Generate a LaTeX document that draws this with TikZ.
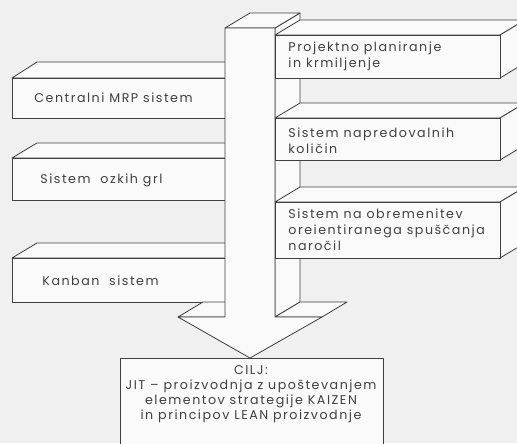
\documentclass[tikz,border=0pt]{standalone}
\usepackage{fontspec}
\newfontfamily\cadfont{Poppins}[LetterSpace=12.0]
\begin{document}
\begin{tikzpicture}[
  x=0.03cm, y=-0.03cm,
  line width=0.7pt,
  font=\cadfont\fontsize{10.8}{13.8}\selectfont,
  plosca/.style={draw=black!75, fill=black!2, line join=round},
  napis/.style={anchor=west, align=left, inner sep=0pt, text=black!75},
]
  \useasboundingbox (0,0) rectangle (517,443);
  \fill[black!6] (0,0) rectangle (517,443);
  \clip (0,0) rectangle (517,443);

  % leve plosce, za stebrom
  \draw[plosca] (12,78) -- (37,62) -- (250,62) -- (240,78) -- cycle;
  \draw[plosca] (12,78) rectangle (240,118);
  \draw[plosca] (12,158) -- (37,143) -- (250,143) -- (240,158) -- cycle;
  \draw[plosca] (12,158) rectangle (240,200);
  \draw[plosca] (12,258) -- (37,243) -- (250,243) -- (240,258) -- cycle;
  \draw[plosca] (12,258) rectangle (240,302);

  % steber s puscico
  \draw[plosca] (275,28) -- (300,13) -- (300,302) -- (275,317) -- cycle;
  \draw[plosca] (225,28) -- (250,13) -- (300,13) -- (275,28) -- cycle;
  \draw[plosca] (178,317) -- (203,302) -- (250,302) -- (225,317) -- cycle;
  \draw[plosca] (275,317) -- (300,302) -- (347,302) -- (322,317) -- cycle;
  \draw[plosca] (225,28) -- (275,28) -- (275,317) -- (322,317)
    -- (250,358) -- (178,317) -- (225,317) -- cycle;

  % desne plosce, pred stebrom
  \draw[plosca] (275,35) -- (300,20) -- (525,20) -- (500,35) -- cycle;
  \draw[plosca] (500,35) -- (525,20) -- (525,63) -- (500,78) -- cycle;
  \draw[plosca] (275,35) rectangle (500,78);
  \draw[plosca] (275,118) -- (300,103) -- (525,103) -- (500,118) -- cycle;
  \draw[plosca] (500,118) -- (525,103) -- (525,145) -- (500,160) -- cycle;
  \draw[plosca] (275,118) rectangle (500,160);
  \draw[plosca] (275,202) -- (300,187) -- (525,187) -- (500,202) -- cycle;
  \draw[plosca] (500,202) -- (525,187) -- (525,243) -- (500,258) -- cycle;
  \draw[plosca] (275,202) rectangle (500,258);

  % cilj
  \draw[plosca] (120,358) rectangle (383,450);

  \node[napis] (mrp) at (34,98) {Centralni MRP sistem};
  \node[napis] (ozko) at (40,180) {Sistem\ \ ozkih grl};
  \node[napis] (kanban) at (42,281) {Kanban\ \ sistem};
  \node[napis] (proj) at (288,56) {Projektno planiranje\\in krmiljenje};
  \node[napis] (napred) at (288,141) {Sistem napredovalnih\\količin};
  \node[napis] (obrem) at (288,230) {Sistem na obremenitev\\oreientiranega spuščanja\\naročil};
  \node[napis, anchor=north, align=center,
        font=\cadfont\fontsize{10.8}{12.8}\selectfont] (cilj) at (251,365)
    {CILJ:\\JIT – proizvodnja z upoštevanjem\\elementov strategije KAIZEN\\in principov LEAN proizvodnje};
\end{tikzpicture}
\end{document}
